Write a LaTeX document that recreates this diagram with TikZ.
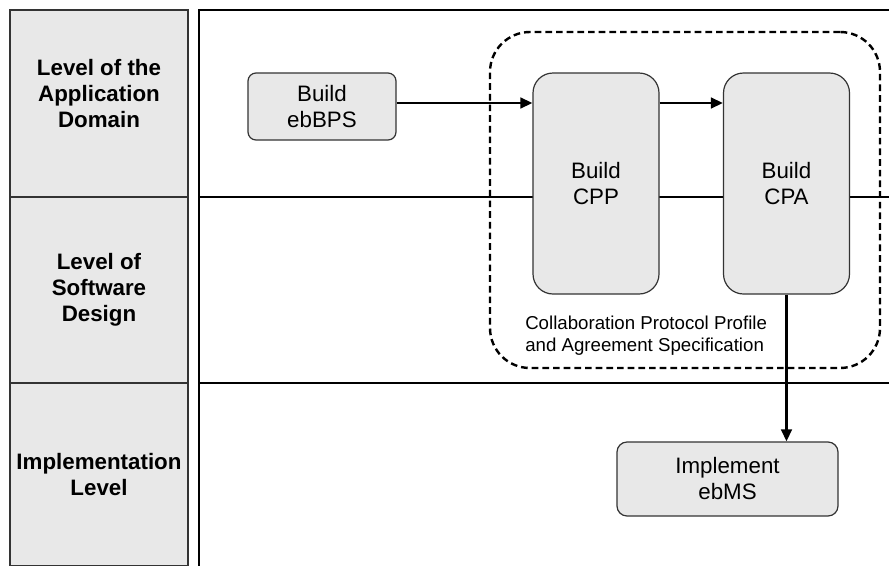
\documentclass[tikz,border=0pt]{standalone}
\usepackage{fontspec}
\setmainfont{Liberation Sans}
\usepackage{tikz}
\usetikzlibrary{arrows.meta, positioning, calc}
\definecolor{cellgray}{RGB}{232,232,232}
\definecolor{edgegray}{RGB}{51,51,51}

\begin{document}
\begin{tikzpicture}[
    x=0.75pt, y=-0.75pt,
    level/.style={draw=edgegray,fill=cellgray,line width=0.9pt,
      minimum width=133.5pt,inner sep=0pt,align=center,
      font=\fontsize{16.75}{19.5}\selectfont\bfseries},
    task/.style={draw=edgegray,fill=cellgray,line width=0.9pt,
      inner sep=0pt,align=center,font=\fontsize{16.75}{19.5}\selectfont},
    sep/.style={line width=1.8pt},
    arrow/.style={-{Triangle[length=9pt,width=8pt]},line width=1.8pt},
    group/.style={draw,line width=1.8pt,dash pattern=on 5pt off 3pt,
      rounded corners=30pt,inner sep=0pt},
    note/.style={font=\fontsize{14}{16.5}\selectfont,align=left,inner sep=0pt}
  ]
  \useasboundingbox (0,0) rectangle (889,565);

  % Level column (left)
  \node[level,minimum height=140.25pt,text depth=15pt] (domain) at (99,103.5) {Level of the\\Application\\Domain};
  \node[level,minimum height=139.5pt] (design) at (99,290) {Level of\\Software\\Design};
  \node[level,minimum height=137.25pt] (impl) at (99,474.5) {Implementation\\Level};

  % Swimlane frame
  \draw[line width=1.1pt] (199,566) -- (199,10) -- (889,10);
  \draw[sep] (199,197) -- (889,197);
  \draw[sep] (199,383) -- (889,383);

  % CPP/CPA group
  \node[group,minimum width=292.5pt,minimum height=252pt] (cppa) at (685,200) {};
  \node[note,anchor=west] (cppanote) at (525,336)
    {Collaboration Protocol Profile\\and Agreement Specification};

  % Tasks
  \node[task,rounded corners=6pt,minimum width=111pt,minimum height=50.25pt] (ebbps) at (322,106.5) {Build\\ebBPS};
  \node[task,rounded corners=15pt,minimum width=94.5pt,minimum height=165.75pt] (cpp) at (596,183.5) {Build\\CPP};
  \node[task,rounded corners=15pt,minimum width=94.5pt,minimum height=165.75pt] (cpa) at (786.5,183.5) {Build\\CPA};
  \node[task,rounded corners=7.5pt,minimum width=165.75pt,minimum height=55.5pt] (ebms) at (727.5,479) {Implement\\ebMS};

  % Flow
  \coordinate (flowy) at (0,103);
  \draw[arrow] (ebbps.east |- flowy) -- (cpp.west |- flowy);
  \draw[arrow] (cpp.east |- flowy) -- (cpa.west |- flowy);
  \draw[arrow] (cpa.south) -- (cpa.south |- ebms.north);
\end{tikzpicture}
\end{document}
